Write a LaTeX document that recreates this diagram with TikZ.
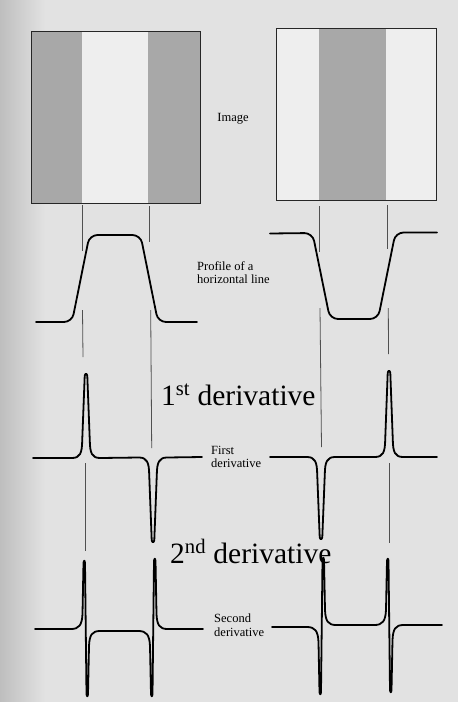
\documentclass[tikz,border=0pt]{standalone}
\usepackage{fontspec}
\setmainfont{Liberation Serif}
\definecolor{bgc}{RGB}{226,226,226}
\definecolor{bgdark}{RGB}{190,190,190}
\definecolor{stripe}{RGB}{168,168,168}
\definecolor{litestripe}{RGB}{238,238,238}
\definecolor{guidec}{RGB}{80,80,80}
% spike pieces (centre, base, tip)
\newcommand{\upspk}[3]{-- ({#1-14},#2) .. controls ({#1-6},#2) and ({#1-4},{#2-5}) .. ({#1-3.8},{#2-17}) -- ({#1-1.3},{#3+3}) .. controls ({#1-0.8},#3) and ({#1+0.8},#3) .. ({#1+1.3},{#3+3}) -- ({#1+3.8},{#2-17}) .. controls ({#1+4},{#2-5}) and ({#1+6},#2) .. ({#1+14},#2)}
\newcommand{\dnspk}[3]{-- ({#1-14},#2) .. controls ({#1-6},#2) and ({#1-4},{#2+5}) .. ({#1-3.8},{#2+17}) -- ({#1-1.3},{#3-3}) .. controls ({#1-0.8},#3) and ({#1+0.8},#3) .. ({#1+1.3},{#3-3}) -- ({#1+3.8},{#2+17}) .. controls ({#1+4},{#2+5}) and ({#1+6},#2) .. ({#1+14},#2)}
% second derivative edges (centre, base, first tip, second tip, base after)
\newcommand{\udedge}[5]{-- ({#1-14},#2) .. controls ({#1-6},#2) and ({#1-3},{#2-4}) .. ({#1-2.5},{#2-15}) -- ({#1-1.5},{#3+3}) .. controls ({#1-1.2},#3) and ({#1-0.2},#3) .. ({#1},{#3+3}) -- ({#1+1.5},{#4-3}) .. controls ({#1+1.8},#4) and ({#1+2.8},#4) .. ({#1+3},{#4-3}) -- ({#1+4},{#5+15}) .. controls ({#1+4.5},{#5+4}) and ({#1+7},#5) .. ({#1+15},#5)}
\newcommand{\duedge}[5]{-- ({#1-14},#2) .. controls ({#1-6},#2) and ({#1-3},{#2+4}) .. ({#1-2.5},{#2+15}) -- ({#1-1.5},{#3-3}) .. controls ({#1-1.2},#3) and ({#1-0.2},#3) .. ({#1},{#3-3}) -- ({#1+1.5},{#4+3}) .. controls ({#1+1.8},#4) and ({#1+2.8},#4) .. ({#1+3},{#4+3}) -- ({#1+4},{#5-15}) .. controls ({#1+4.5},{#5-4}) and ({#1+7},#5) .. ({#1+15},#5)}
\tikzset{
  curve/.style={line width=1.8pt, black, line join=round, line cap=round},
  guide/.style={line width=0.8pt, guidec},
  boxline/.style={line width=1pt, black!85},
  smalllbl/.style={inner sep=0pt, font=\fontsize{12.5}{13.5}\selectfont},
  biglbl/.style={inner sep=0pt, font=\fontsize{29.5}{32}\selectfont},
}
\begin{document}
\begin{tikzpicture}[x=1pt,y=-1pt]
\useasboundingbox (0,0) rectangle (458,702);
% page background
\fill[bgc] (0,0) rectangle (458,702);
\shade[left color=bgdark, right color=bgc] (0,0) rectangle (45,702);
% left image
\fill[stripe] (31,31) rectangle (82,203);
\fill[litestripe] (82,31) rectangle (148,203);
\fill[stripe] (148,31) rectangle (200,203);
\draw[boxline] (31,31) rectangle (200,203);
% right image
\fill[litestripe] (276,28) rectangle (436,200);
\fill[stripe] (319,28) rectangle (386,200);
\draw[boxline] (276,28) rectangle (436,200);
% guide lines
\draw[guide] (82,205) -- (82,251);
\draw[guide] (82.5,310) -- (83,357);
\draw[guide] (85,463) -- (85,551);
\draw[guide] (149,206) -- (149,242);
\draw[guide] (150.7,310) -- (151.7,448);
\draw[guide] (319,206) -- (319,252);
\draw[guide] (320,308) -- (321.5,447);
\draw[guide] (387,205) -- (387,249);
\draw[guide] (388.3,308) -- (388.5,354);
\draw[guide] (389,463) -- (389,543);
% profiles
\draw[curve, rounded corners=8pt] (36,322) -- (72,322) -- (89.5,235) -- (140.5,235) -- (158,322) -- (197,322);
\draw[curve, rounded corners=8pt] (270,233.5) -- (312.5,233) -- (330,319) -- (378,319) -- (395.5,232.5) -- (437,232.5);
% first derivatives
\draw[curve] (33,458) \upspk{86}{458}{373} \dnspk{153}{457.5}{543} -- (202,457);
\draw[curve] (270,457) \dnspk{321}{457}{540} \upspk{389}{457}{370} -- (437,457);
% second derivatives
\draw[curve] (35,629) \udedge{85}{629}{560}{697}{631} \duedge{152.5}{631}{697}{558}{629} -- (203,629);
\draw[curve] (272,627) \duedge{321}{627}{695}{557}{625} \udedge{388.5}{625}{558}{693}{625} -- (442,625);
% labels
\node[smalllbl, anchor=base] (imglbl) at (233,121.5) {Image};
\node[smalllbl, anchor=north west, align=left] (proflbl) at (197,261) {Profile of a\\horizontal line};
\node[smalllbl, anchor=north west, align=left] (firstlbl) at (211,446) {First\\derivative};
\node[smalllbl, anchor=north west, align=left] (secondlbl) at (214,614) {Second\\derivative};
\node[biglbl, anchor=base west] (d1lbl) at (161,405) {1\textsuperscript{st} derivative};
\node[biglbl, anchor=base west] (d2lbl) at (170,563) {2\textsuperscript{nd} derivative};
\end{tikzpicture}
\end{document}
